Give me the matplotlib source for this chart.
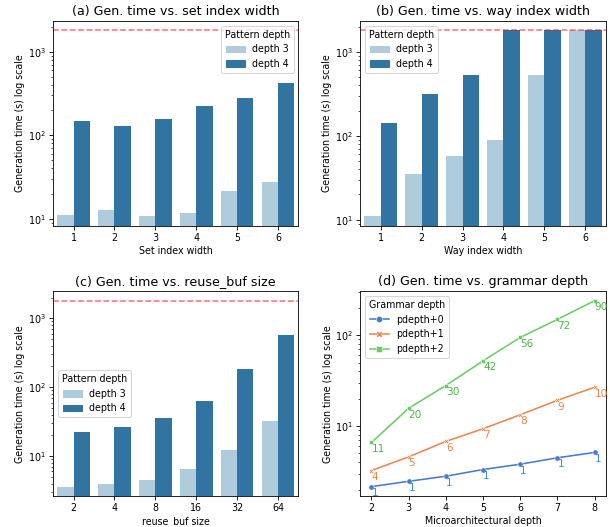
import colorsys
import numpy as np
import matplotlib
matplotlib.use("Agg")
import matplotlib.pyplot as plt
from matplotlib.patches import Patch
from matplotlib.lines import Line2D
import matplotlib.colors as mcolors

# ---------------- data ----------------
TIMEOUT = 1800

set_width = ["1", "2", "3", "4", "5", "6"]
set_d3 = [11.0, 12.6, 10.7, 11.7, 21.2, 27.9]
set_d4 = [147, 128, 155, 222, 277, 417]

way_width = ["1", "2", "3", "4", "5", "6"]
way_d3 = [11.0, 34.8, 57.1, 89.6, 536, 1800]
way_d4 = [143, 318, 536, 1800, 1800, 1800]

buf_size = ["2", "4", "8", "16", "32", "64"]
buf_d3 = [3.62, 4.0, 4.58, 6.62, 12.1, 31.9]
buf_d4 = [22.1, 26.1, 35.3, 62.2, 181, 582]

micro_depth = [2, 3, 4, 5, 6, 7, 8]
gd0 = [2.16, 2.47, 2.81, 3.33, 3.81, 4.48, 5.13]
gd1 = [3.24, 4.59, 6.78, 9.35, 13.3, 19.2, 26.7]
gd2 = [6.6, 15.7, 27.9, 52.1, 94.2, 149, 239]
gd0_lbl = ["1", "1", "1", "1", "1", "1", "1"]
gd1_lbl = ["4", "5", "6", "7", "8", "9", "10"]
gd2_lbl = ["11", "20", "30", "42", "56", "72", "90"]

# ---------------- style ----------------
def desat(c, prop=0.75):
    r, g, b = mcolors.to_rgb(c)
    h, l, s = colorsys.rgb_to_hls(r, g, b)
    return colorsys.hls_to_rgb(h, l, s * prop)

C3 = desat("#a6cee3")
C4 = desat("#1f78b4")
LBLUE, LORANGE, LGREEN = "#4878d0", "#ee854a", "#6acc64"

DPI = 76
plt.rcParams.update({
    "font.family": "DejaVu Sans",
    "font.size": 9,
    "axes.titlesize": 12,
    "axes.labelsize": 9,
    "axes.labelpad": 2.5,
    "xtick.labelsize": 9,
    "ytick.labelsize": 9,
    "legend.fontsize": 9,
    "legend.title_fontsize": 9,
})

fig, axes = plt.subplots(2, 2, figsize=(610 / DPI, 527 / DPI), dpi=DPI)
fig.subplots_adjust(left=0.087, right=0.993, top=0.960, bottom=0.059,
                    wspace=0.252, hspace=0.322)

def bar_panel(ax, cats, d3, d4, title, xlabel, legend_loc):
    x = np.arange(len(cats))
    w = 0.4
    ax.set_yscale("log")
    ax.bar(x - w / 2, d3, width=w, color=C3, label="depth 3")
    ax.bar(x + w / 2, d4, width=w, color=C4, label="depth 4")
    ax.axhline(TIMEOUT, color="red", alpha=0.55, linestyle="--", linewidth=1.5)
    ax.set_xticks(x)
    ax.set_xticklabels(cats)
    ax.set_xlim(-0.5, len(cats) - 0.5)
    lo = np.log10(min(min(d3), min(d4)))
    hi = np.log10(TIMEOUT)
    m = 0.05 * (hi - lo)
    ax.set_ylim(10 ** (lo - m), 10 ** (hi + m))
    ax.set_title(title)
    ax.set_xlabel(xlabel)
    ax.set_ylabel("Generation time (s) log scale")
    handles = [Patch(color=C3, label="depth 3"), Patch(color=C4, label="depth 4")]
    ax.legend(handles=handles, title="Pattern depth", loc=legend_loc)

bar_panel(axes[0, 0], set_width, set_d3, set_d4,
          "(a) Gen. time vs. set index width", "Set index width", "upper right")
bar_panel(axes[0, 1], way_width, way_d3, way_d4,
          "(b) Gen. time vs. way index width", "Way index width", "upper left")
bar_panel(axes[1, 0], buf_size, buf_d3, buf_d4,
          "(c) Gen. time vs. reuse_buf size", "reuse_buf size", "center left")

ax = axes[1, 1]
ax.set_yscale("log")
series = [
    (gd0, gd0_lbl, LBLUE, "o", "pdepth+0", "#3d8fd6"),
    (gd1, gd1_lbl, LORANGE, "X", "pdepth+1", LORANGE),
    (gd2, gd2_lbl, LGREEN, "s", "pdepth+2", "#4cb847"),
]
handles = []
for ys, lbls, col, mk, name, tcol in series:
    ax.plot(micro_depth, ys, color=col, marker=mk, markersize=5 if mk == "o" else 4,
            markeredgecolor="white", markeredgewidth=0.5, linewidth=1.5)
    for xv, yv, t in zip(micro_depth, ys, lbls):
        ax.annotate(t, (xv, yv), xytext=(0, -1.5), textcoords="offset points",
                    ha="left", va="top", color=tcol, fontsize=10)
    handles.append(Line2D([0], [0], color=col, marker=mk, markersize=6,
                          markeredgecolor="white", markeredgewidth=0.5,
                          linewidth=1.5, label=name))
ax.legend(handles=handles, title="Grammar depth", loc="upper left")
ax.set_title("(d) Gen. time vs. grammar depth")
ax.set_xlabel("Microarchitectural depth")
ax.set_ylabel("Generation time (s) log scale")
ax.set_xticks(micro_depth)

fig.savefig("out.png", dpi=DPI)
